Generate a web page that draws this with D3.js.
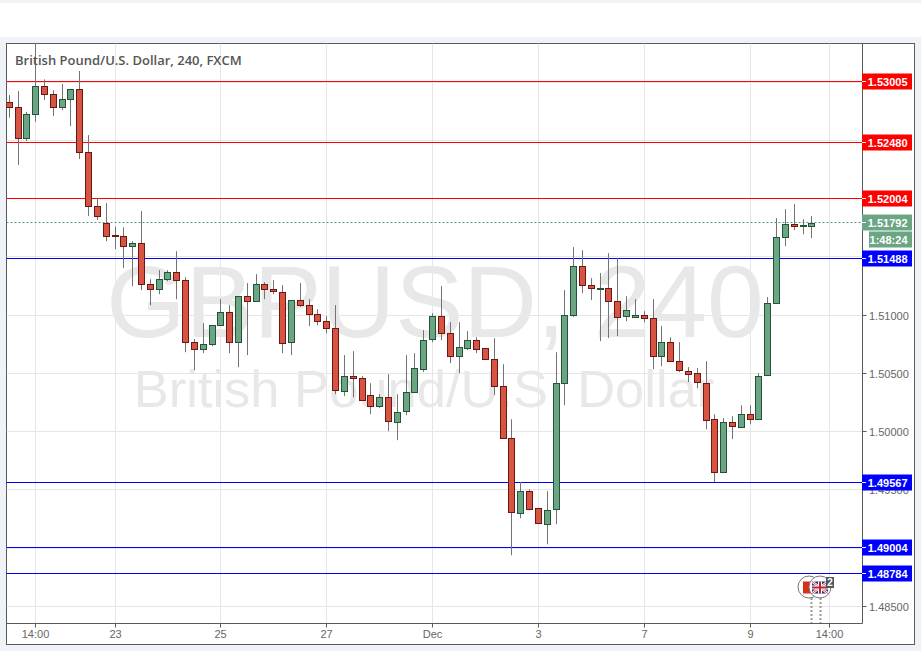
<!DOCTYPE html>
<html><head><meta charset="utf-8">
<script src="https://cdn.jsdelivr.net/npm/d3@7/dist/d3.min.js"></script>
<style>html,body{margin:0;padding:0;background:#eff3f7}svg{display:block}</style>
</head><body><svg id="c" width="921" height="651"></svg>
<script>
const opens=[1.52826,1.52783,1.52513,1.52723,1.52963,1.52895,1.52783,1.52852,1.52937,1.52397,1.51933,1.51792,1.51684,1.51676,1.51590,1.51616,1.51264,1.51221,1.51307,1.51367,1.51298,1.50766,1.50706,1.50749,1.50912,1.51023,1.50766,1.51161,1.51118,1.51264,1.51221,1.51203,1.50766,1.51126,1.51083,1.51006,1.50946,1.50886,1.50354,1.50482,1.50465,1.50311,1.50216,1.50294,1.50088,1.50173,1.50337,1.50543,1.50791,1.50989,1.50843,1.50646,1.50723,1.50791,1.50714,1.50620,1.50388,1.49942,1.49306,1.49495,1.49341,1.49212,1.49332,1.50414,1.50998,1.51421,1.51255,1.51226,1.51232,1.51123,1.50985,1.50977,1.50998,1.50972,1.50646,1.50766,1.50603,1.50525,1.50500,1.50422,1.50105,1.49650,1.50079,1.50045,1.50156,1.50113,1.50482,1.51101,1.51667,1.51779,1.51761,1.51770];
const highs=[1.52889,1.52923,1.52745,1.53335,1.53023,1.52931,1.52983,1.52937,1.53095,1.52545,1.52002,1.51961,1.51758,1.51753,1.51635,1.51893,1.51309,1.51386,1.51386,1.51549,1.51326,1.50794,1.50931,1.50912,1.51137,1.51086,1.51161,1.51275,1.51352,1.51283,1.51301,1.51258,1.51126,1.51275,1.51137,1.51052,1.50991,1.51086,1.50657,1.50691,1.50476,1.50416,1.50322,1.50494,1.50322,1.50657,1.50674,1.50871,1.51017,1.51249,1.50940,1.50940,1.50863,1.50811,1.50714,1.50803,1.50579,1.50107,1.49567,1.49506,1.49341,1.49489,1.50682,1.51215,1.51584,1.51558,1.51318,1.51361,1.51532,1.51489,1.51163,1.51137,1.51034,1.51137,1.50906,1.50811,1.50768,1.50554,1.50545,1.50605,1.50150,1.50116,1.50133,1.50227,1.50227,1.50502,1.51155,1.51833,1.51910,1.51953,1.51824,1.51850];
const lows=[1.52694,1.52290,1.52496,1.52659,1.52846,1.52708,1.52760,1.52622,1.52339,1.51850,1.51816,1.51635,1.51567,1.51404,1.51249,1.51215,1.51086,1.51180,1.51292,1.51137,1.50682,1.50528,1.50674,1.50734,1.50912,1.50674,1.50554,1.50657,1.51118,1.51137,1.51180,1.50674,1.50657,1.51071,1.50906,1.50914,1.50846,1.50322,1.50305,1.50296,1.50276,1.50150,1.50202,1.50004,1.49927,1.50142,1.50337,1.50511,1.50768,1.50785,1.50588,1.50502,1.50700,1.50674,1.50620,1.50313,1.49942,1.48940,1.49258,1.49326,1.49212,1.49034,1.49206,1.50227,1.50983,1.51189,1.51129,1.50777,1.50803,1.50820,1.50949,1.50977,1.50940,1.50537,1.50562,1.50603,1.50511,1.50425,1.50373,1.50021,1.49567,1.49650,1.49936,1.50045,1.50064,1.50113,1.50482,1.51101,1.51592,1.51730,1.51695,1.51661];
const closes=[1.52783,1.52517,1.52723,1.52963,1.52895,1.52783,1.52852,1.52937,1.52397,1.51933,1.51847,1.51684,1.51676,1.51590,1.51616,1.51264,1.51221,1.51307,1.51367,1.51298,1.50766,1.50706,1.50749,1.50912,1.51023,1.50766,1.51161,1.51118,1.51264,1.51221,1.51203,1.50766,1.51126,1.51083,1.51006,1.50946,1.50886,1.50354,1.50482,1.50465,1.50276,1.50216,1.50294,1.50088,1.50173,1.50337,1.50543,1.50791,1.50989,1.50843,1.50646,1.50723,1.50791,1.50714,1.50620,1.50388,1.49942,1.49306,1.49495,1.49341,1.49212,1.49332,1.50414,1.50998,1.51421,1.51255,1.51226,1.51232,1.51123,1.50985,1.51040,1.50998,1.50972,1.50646,1.50766,1.50603,1.50525,1.50500,1.50422,1.50105,1.49650,1.50079,1.50045,1.50156,1.50113,1.50482,1.51101,1.51667,1.51779,1.51761,1.51770,1.51792];

const gridPrices=[1.485,1.49,1.495,1.5,1.505,1.51,1.515,1.52,1.525,1.53];
const labelledPrices=[1.485,1.495,1.5,1.505,1.51];
const timeTickIndex=[3,12,24,36,48,60,72,84,93];
const timeTickLabels=["14:00","23","25","27","Dec","3","7","9","14:00"];

const levelValues=[1.53005,1.52480,1.52004,1.51488,1.49567,1.49004,1.48784];
const levelColors=["#ff0000","#ff0000","#ff0000","#0000ff","#0000ff","#0000ff","#0000ff"];
const lastPrice=1.51792;
const countdown="1:48:24";
const titleText="British Pound/U.S. Dollar, 240, FXCM";
const watermarkTop="GBPUSD, 240";
const watermarkBottom="British Pound/U.S. Dollar";

const L=6.5,R=862.5,T=43.5,B=623.5,PR=914.5,PB=644.5;
const svg=d3.select("#c");
const FONT="'Liberation Sans',Arial,sans-serif";
const FS=11;
const up={f:"#6ba583",s:"#225437"},dn={f:"#d75442",s:"#6b1713"};

svg.append("rect").attr("width",921).attr("height",651).attr("fill","#eff3f7");
svg.append("rect").attr("x",0).attr("y",3).attr("width",921).attr("height",34).attr("fill","#fff");
svg.append("rect").attr("x",L).attr("y",T).attr("width",PR-L).attr("height",PB-T).attr("fill","#fff").attr("stroke","#5a5a5a");

const x=d3.scaleLinear().domain([0,93]).range([9.2,829.5]);
const y=d3.scaleLinear().domain([1.485,1.53]).range([606.51,82.08]);
const px=v=>Math.floor(v)+0.5, py=v=>Math.floor(y(v))+0.5;

const plot=svg.append("g");
svg.append("defs").append("clipPath").attr("id","pc").append("rect").attr("x",L).attr("y",T).attr("width",R-L).attr("height",B-T);
plot.attr("clip-path","url(#pc)");

plot.selectAll(".gv").data(timeTickIndex).join("line").attr("x1",d=>px(x(d))).attr("x2",d=>px(x(d))).attr("y1",T).attr("y2",B).attr("stroke","#e6e6e6");
plot.selectAll(".gh").data(gridPrices).join("line").attr("x1",L).attr("x2",R).attr("y1",py).attr("y2",py).attr("stroke","#e6e6e6");

plot.append("text").text(watermarkTop).attr("x",435).attr("y",337).attr("text-anchor","middle").attr("font-family",FONT).attr("font-size",102).attr("fill","#e8e8e8");
plot.append("text").text(watermarkBottom).attr("x",424).attr("y",407).attr("text-anchor","middle").attr("font-family",FONT).attr("font-size",52.5).attr("fill","#e8e8e8");

levelValues.forEach((v,i)=>{
  plot.append("line").attr("x1",L).attr("x2",R).attr("y1",py(v)).attr("y2",py(v)).attr("stroke",levelColors[i]);
});
plot.append("line").attr("x1",L).attr("x2",R).attr("y1",py(lastPrice)).attr("y2",py(lastPrice)).attr("stroke","#5a9a78").attr("stroke-dasharray","2 2");

const idx=d3.range(opens.length);
plot.selectAll(".w").data(idx).join("line").attr("x1",i=>px(x(i))).attr("x2",i=>px(x(i))).attr("y1",i=>y(highs[i])).attr("y2",i=>y(lows[i])).attr("stroke","#737373");
plot.selectAll(".b").data(idx).join("rect")
 .attr("x",i=>px(x(i))-3).attr("width",6)
 .attr("y",i=>Math.round(y(Math.max(opens[i],closes[i])))+.5)
 .attr("height",i=>Math.max(Math.round(Math.abs(y(opens[i])-y(closes[i]))),0.5))
 .attr("fill",i=>closes[i]>=opens[i]?up.f:dn.f)
 .attr("stroke",i=>closes[i]>=opens[i]?up.s:dn.s);

const yAxis=d3.axisRight(y).tickValues(labelledPrices).tickFormat(d3.format(".5f")).tickSize(4).tickPadding(2.5);
const gy=svg.append("g").attr("transform",`translate(${R},0)`).call(yAxis);
const xAxis=d3.axisBottom(x).tickValues(timeTickIndex).tickFormat((d,i)=>timeTickLabels[i]).tickSize(4).tickPadding(2.5);
const gx=svg.append("g").attr("transform",`translate(0,${B})`).call(xAxis);
[gy,gx].forEach(g=>{
  g.selectAll("text").attr("font-family",FONT).attr("font-size",FS).attr("fill","#666");
  g.selectAll("line").attr("stroke","#5a5a5a");
  g.select(".domain").attr("stroke","#5a5a5a");
});
gy.select(".domain").attr("d",`M0,${T}V${B}`);
gx.select(".domain").attr("d",`M${L},0H${R}`);
gy.selectAll(".tick").attr("transform",d=>`translate(0,${py(d)})`);
gy.selectAll("text").attr("dy","0.38em");
gx.selectAll(".tick").attr("transform",d=>`translate(${px(x(d))},0)`);

function tag(color,txt,x0,w,yc,tick){
  const g=svg.append("g");
  g.append("rect").attr("x",x0).attr("y",yc-8).attr("width",w).attr("height",16).attr("fill",color);
  if(tick) g.append("line").attr("x1",862).attr("x2",866).attr("y1",yc).attr("y2",yc).attr("stroke","#fff");
  g.append("text").text(txt).attr("x",907.5).attr("y",yc+4.5).attr("text-anchor","end").attr("font-family",FONT).attr("font-size",FS).attr("font-weight",700).attr("fill","#fff");
}
levelValues.forEach((v,i)=>tag(levelColors[i],v.toFixed(5),862,50,py(v),true));
tag("#6ba583",lastPrice.toFixed(5),862,50,py(lastPrice),true);
tag("#6ba583",countdown,869,43,239.5,false);

svg.append("text").text(titleText).attr("x",15).attr("y",65).attr("font-family","'Open Sans',sans-serif").attr("font-weight",600).attr("font-size",13).attr("fill","#555");

// event markers
const ev=svg.append("g");
[811,820].forEach(cx=>ev.append("line").attr("x1",cx+.5).attr("x2",cx+.5).attr("y1",598).attr("y2",623).attr("stroke","#999").attr("stroke-width",2).attr("stroke-dasharray","2 2"));
ev.append("circle").attr("cx",809).attr("cy",587).attr("r",11).attr("fill","#fff").attr("stroke","#777");
ev.append("rect").attr("x",803).attr("y",581.5).attr("width",10).attr("height",12).attr("fill","#d9301e");
ev.append("circle").attr("cx",820).attr("cy",587).attr("r",11).attr("fill","#fff").attr("stroke","#777");
ev.append("rect").attr("x",812).attr("y",581.5).attr("width",16).attr("height",12).attr("fill","#22357f");
ev.append("path").attr("d","M812,581.5L828,593.5M828,581.5L812,593.5").attr("stroke","#fff").attr("stroke-width",2.4);
ev.append("path").attr("d","M812,581.5L828,593.5M828,581.5L812,593.5").attr("stroke","#c8202f").attr("stroke-width",.8);
ev.append("path").attr("d","M820,581.5V593.5M812,587.5H828").attr("stroke","#fff").attr("stroke-width",4);
ev.append("path").attr("d","M820,581.5V593.5M812,587.5H828").attr("stroke","#c8202f").attr("stroke-width",2);
ev.append("rect").attr("x",826).attr("y",577).attr("width",8).attr("height",11).attr("fill","#555");
ev.append("text").text("2").attr("x",830).attr("y",586).attr("text-anchor","middle").attr("font-family",FONT).attr("font-weight",700).attr("font-size",10).attr("fill","#fff");
</script></body></html>
